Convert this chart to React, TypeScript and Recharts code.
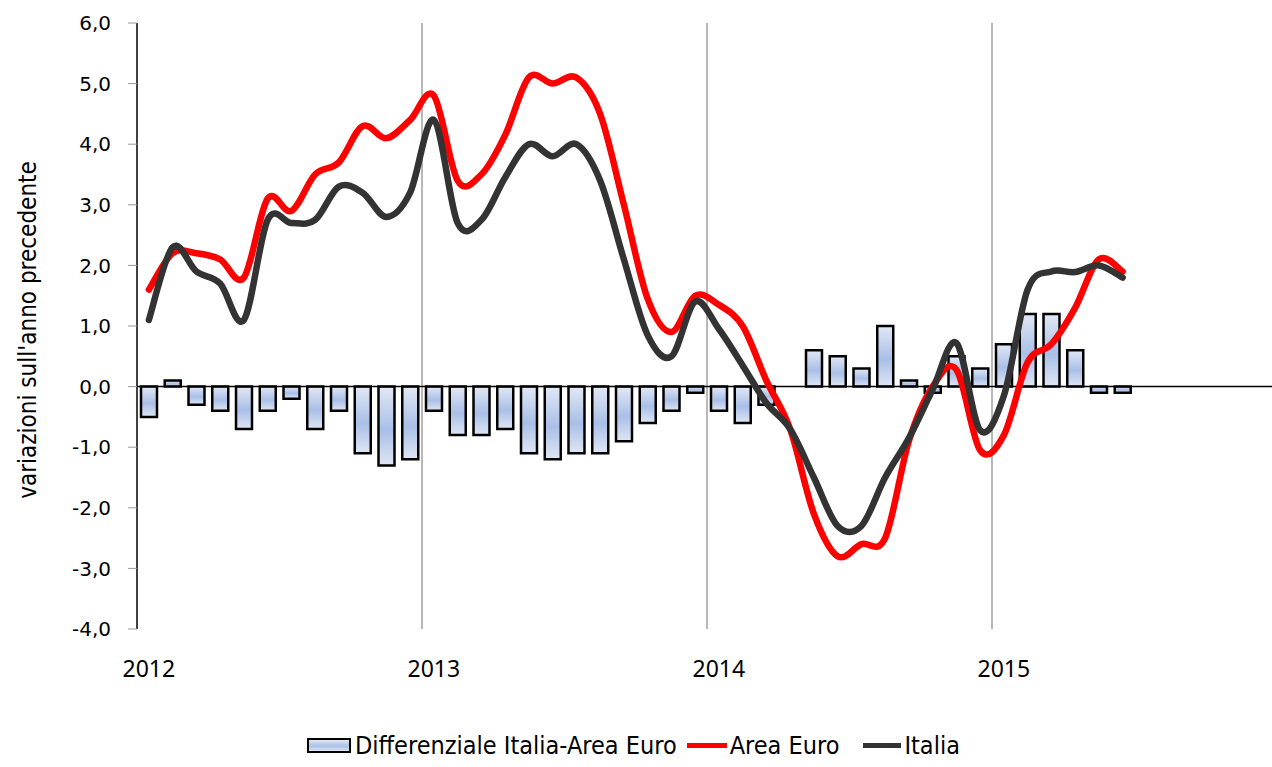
import React from "react";
import {
  ComposedChart,
  Bar,
  Line,
  XAxis,
  YAxis,
  ReferenceLine,
  Legend,
} from "recharts";

// mesi gen 2012 - giu 2015
const months = [
  "gen 12", "feb 12", "mar 12", "apr 12", "mag 12", "giu 12", "lug 12", "ago 12", "set 12", "ott 12", "nov 12", "dic 12",
  "gen 13", "feb 13", "mar 13", "apr 13", "mag 13", "giu 13", "lug 13", "ago 13", "set 13", "ott 13", "nov 13", "dic 13",
  "gen 14", "feb 14", "mar 14", "apr 14", "mag 14", "giu 14", "lug 14", "ago 14", "set 14", "ott 14", "nov 14", "dic 14",
  "gen 15", "feb 15", "mar 15", "apr 15", "mag 15", "giu 15",
];

const areaEuro = [
  1.6, 2.2, 2.2, 2.1, 1.8, 3.1, 2.9, 3.5, 3.7, 4.3, 4.1, 4.4,
  4.8, 3.4, 3.5, 4.15, 5.1, 5.0, 5.1, 4.5, 3.0, 1.45, 0.9, 1.5,
  1.35, 1.0, 0.1, -0.7, -2.1, -2.8, -2.6, -2.5, -0.9, 0.0, 0.28, -1.05,
  -0.8, 0.4, 0.7, 1.3, 2.1, 1.9,
];

const italia = [
  1.1, 2.3, 1.9, 1.7, 1.1, 2.75, 2.7, 2.75, 3.3, 3.2, 2.8, 3.2,
  4.4, 2.7, 2.75, 3.45, 4.0, 3.8, 4.0, 3.4, 2.1, 0.85, 0.5, 1.4,
  0.95, 0.35, -0.27, -0.7, -1.5, -2.3, -2.3, -1.5, -0.85, -0.05, 0.72, -0.72,
  -0.15, 1.6, 1.9, 1.89, 2.0, 1.8,
];

const differenziale = [
  -0.5, 0.1, -0.3, -0.4, -0.7, -0.4, -0.2, -0.7, -0.4, -1.1, -1.3, -1.2,
  -0.4, -0.8, -0.8, -0.7, -1.1, -1.2, -1.1, -1.1, -0.9, -0.6, -0.4, -0.1,
  -0.4, -0.6, -0.3, 0.0, 0.6, 0.5, 0.3, 1.0, 0.1, -0.1, 0.5, 0.3,
  0.7, 1.2, 1.2, 0.6, -0.1, -0.1,
];

const years = ["2012", "2013", "2014", "2015"];
const yTicks = [-4, -3, -2, -1, 0, 1, 2, 3, 4, 5, 6];

const data = months.map((m, i) => ({
  mese: m,
  x: i + 0.5,
  diff: differenziale[i],
  euro: areaEuro[i],
  italia: italia[i],
}));

const NARROW = "'Liberation Sans Narrow', 'DejaVu Sans Condensed', 'Liberation Sans', sans-serif";

// curva smussata tipo Excel (Catmull-Rom)
const smoothCurve = (context: any) => {
  let pts: number[][] = [];
  return {
    areaStart() {},
    areaEnd() {},
    lineStart() {
      pts = [];
    },
    lineEnd() {
      if (!pts.length) return;
      context.moveTo(pts[0][0], pts[0][1]);
      for (let i = 0; i < pts.length - 1; i++) {
        const p0 = pts[i - 1] || pts[i];
        const p1 = pts[i];
        const p2 = pts[i + 1];
        const p3 = pts[i + 2] || p2;
        context.bezierCurveTo(
          p1[0] + (p2[0] - p0[0]) / 6,
          p1[1] + (p2[1] - p0[1]) / 6,
          p2[0] - (p3[0] - p1[0]) / 6,
          p2[1] - (p3[1] - p1[1]) / 6,
          p2[0],
          p2[1]
        );
      }
    },
    point(x: number, y: number) {
      pts.push([+x, +y]);
    },
  };
};

const YLabel = ({ viewBox }: any) => {
  const cy = viewBox.y + viewBox.height / 2 + 4;
  return (
    <text
      x={29}
      y={cy}
      transform={`rotate(-90, 29, ${cy})`}
      textAnchor="middle"
      dominantBaseline="middle"
      fontFamily={NARROW}
      fontSize={24}
      fill="#000"
    >
      variazioni sull'anno precedente
    </text>
  );
};

const barIcon = {
  display: "inline-block",
  width: 40,
  height: 11,
  border: "2px solid #000",
  background: "linear-gradient(#e2e8f5, #a9bfe7 55%, #dfe6f4)",
  marginRight: 4,
};

const CustomLegend = () => (
  <div
    style={{
      display: "flex",
      justifyContent: "center",
      alignItems: "center",
      fontFamily: NARROW,
      fontSize: 25,
      color: "#000",
      paddingRight: 10,
    }}
  >
    <span style={barIcon} />
    <span style={{ marginRight: 10 }}>Differenziale Italia-Area Euro</span>
    <span style={{ display: "inline-block", width: 40, height: 5, background: "#ff0000", marginRight: 3 }} />
    <span style={{ marginRight: 24 }}>Area Euro</span>
    <span style={{ display: "inline-block", width: 38, height: 5, background: "#333333", marginRight: 3 }} />
    <span>Italia</span>
  </div>
);

export default function App() {
  return (
    <div style={{ position: "absolute", left: 0, top: 0, width: 1272, height: 767, background: "#fff" }}>
      <ComposedChart
        width={1272}
        height={767}
        data={data}
        margin={{ top: 23, right: -5, left: 0, bottom: 0 }}
      >
        <defs>
          <linearGradient id="barGrad" x1="0" y1="0" x2="0" y2="1">
            <stop offset="0%" stopColor="#e2e8f5" />
            <stop offset="55%" stopColor="#a9bfe7" />
            <stop offset="100%" stopColor="#dfe6f4" />
          </linearGradient>
        </defs>
        <XAxis
          type="number"
          dataKey="x"
          domain={[0, 48]}
          ticks={[0.5, 12.5, 24.5, 36.5]}
          tickFormatter={(v: number) => years[Math.floor(v / 12)]}
          axisLine={false}
          tickLine={false}
          tickSize={0}
          tickMargin={32}
          height={102}
          tick={{ fontFamily: "'Noto Sans', sans-serif", fontSize: 23, fill: "#000" }}
        />
        <YAxis
          width={137}
          domain={[-4, 6]}
          ticks={yTicks}
          interval={0}
          tickFormatter={(v: number) => v.toFixed(1).replace(".", ",")}
          axisLine={{ stroke: "#000", strokeWidth: 1.5 }}
          tickLine={{ stroke: "#999" }}
          tickSize={9}
          tickMargin={17}
          tick={{ fontFamily: "'DejaVu Sans', sans-serif", fontSize: 20, fill: "#000" }}
          label={<YLabel />}
        />
        {[12, 24, 36].map((v) => (
          <ReferenceLine key={v} x={v} stroke="#707070" strokeWidth={1} />
        ))}
        <ReferenceLine y={0} stroke="#000" strokeWidth={1.5} />
        <Legend verticalAlign="bottom" height={36} content={<CustomLegend />} />
        <Bar
          dataKey="diff"
          name="Differenziale Italia-Area Euro"
          barSize={16}
          fill="url(#barGrad)"
          stroke="#000"
          strokeWidth={2.5}
          isAnimationActive={false}
        />
        <Line
          dataKey="euro"
          name="Area Euro"
          type={smoothCurve as any}
          stroke="#ff0000"
          strokeWidth={6.5}
          strokeLinecap="round"
          dot={false}
          isAnimationActive={false}
        />
        <Line
          dataKey="italia"
          name="Italia"
          type={smoothCurve as any}
          stroke="#333333"
          strokeWidth={6.5}
          strokeLinecap="round"
          dot={false}
          isAnimationActive={false}
        />
      </ComposedChart>
    </div>
  );
}
